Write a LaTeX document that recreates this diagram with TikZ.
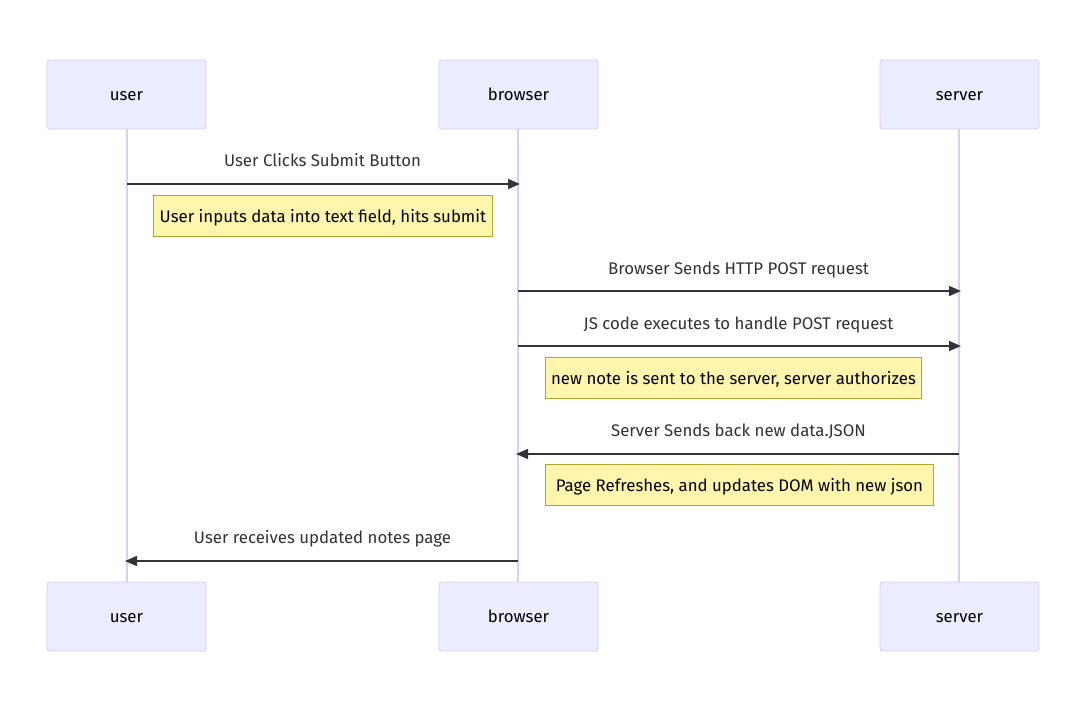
\documentclass[tikz,border=0pt]{standalone}
\usepackage{fontspec}
\setmainfont{Fira Sans}
\usetikzlibrary{arrows.meta}
\definecolor{actfill}{HTML}{ECECFF}
\definecolor{actline}{HTML}{DACEF3}
\definecolor{notefill}{HTML}{FFF5AD}
\definecolor{noteline}{HTML}{AAAA33}
\definecolor{msgcol}{HTML}{333333}
\tikzset{
  txtfont/.style={font=\fontsize{16.8}{20}\selectfont, text height=14pt, text depth=1.5pt},
  actor/.style={draw=actline, fill=actfill, line width=0.9pt, rounded corners=3pt,
    minimum width=159pt, minimum height=69pt, inner sep=0pt, text=black, txtfont},
  lifeline/.style={draw=actline, line width=1.6pt},
  msg/.style={draw=msgcol, line width=1.5pt, -{Triangle[length=12pt,width=10pt]}, shorten >=-2pt},
  msglabel/.style={text=msgcol, inner sep=0pt, txtfont},
  note/.style={draw=noteline, fill=notefill, line width=0.9pt, text=black, inner sep=0pt,
    minimum height=41pt, txtfont, anchor=north west},
}
\begin{document}
\begin{tikzpicture}[x=1pt,y=-1pt]
\useasboundingbox[fill=white] (0,0) rectangle (1080,728);
% lifelines
\coordinate (ut) at (127,129); \coordinate (ub) at (127,582);
\coordinate (bt) at (518,129); \coordinate (bb) at (518,582);
\coordinate (st) at (959,129); \coordinate (sb) at (959,582);
\draw[lifeline] (ut) -- (ub);
\draw[lifeline] (bt) -- (bb);
\draw[lifeline] (st) -- (sb);
% actors
\node[actor] (user1) at (126.5,94.5) {user};
\node[actor] (browser1) at (518.5,94.5) {browser};
\node[actor] (server1) at (959.5,94.5) {server};
\node[actor] (user2) at (126.5,616.5) {user};
\node[actor] (browser2) at (518.5,616.5) {browser};
\node[actor] (server2) at (959.5,616.5) {server};
% message endpoints
\coordinate (m1a) at (127,184); \coordinate (m1b) at (518,184);
\coordinate (m2a) at (518,291); \coordinate (m2b) at (959,291);
\coordinate (m3a) at (518,346); \coordinate (m3b) at (959,346);
\coordinate (m4a) at (959,454); \coordinate (m4b) at (518,454);
\coordinate (m5a) at (518,561); \coordinate (m5b) at (127,561);
\draw[msg] (m1a) -- (m1b);
\draw[msg] (m2a) -- (m2b);
\draw[msg] (m3a) -- (m3b);
\draw[msg] (m4a) -- (m4b);
\draw[msg] (m5a) -- (m5b);
\node[msglabel] (l1) at (322.5,160) {User Clicks Submit Button};
\node[msglabel] (l2) at (738.5,268) {Browser Sends HTTP POST request};
\node[msglabel] (l3) at (738.5,323) {JS code executes to handle POST request};
\node[msglabel] (l4) at (738.5,430) {Server Sends back new data.JSON};
\node[msglabel] (l5) at (322.5,537) {User receives updated notes page};
% notes
\node[note, minimum width=339pt] (n1) at (153,195) {User inputs data into text field, hits submit};
\node[note, minimum width=376pt] (n2) at (545,357) {new note is sent to the server, server authorizes};
\node[note, minimum width=388pt] (n3) at (545,464) {Page Refreshes, and updates DOM with new json};
\end{tikzpicture}
\end{document}
